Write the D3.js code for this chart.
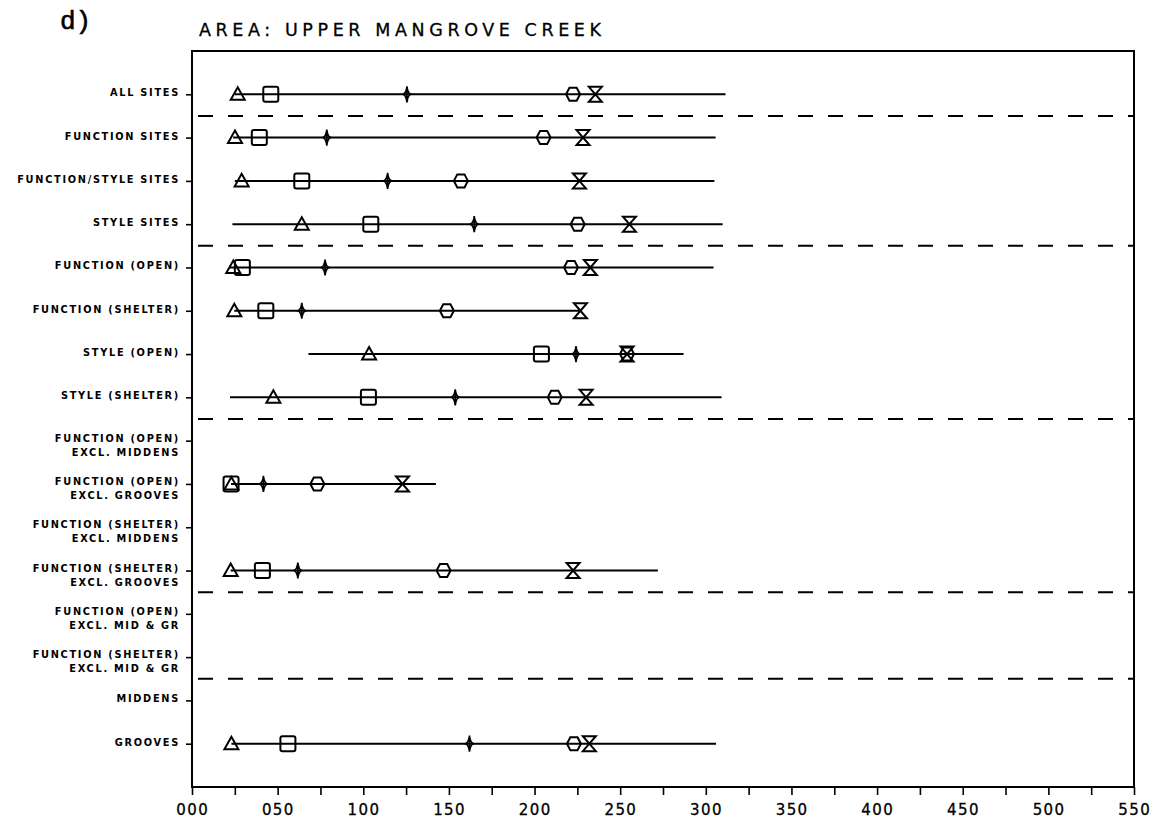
<!DOCTYPE html>
<html>
<head>
<meta charset="utf-8">
<script src="https://cdn.jsdelivr.net/npm/d3@7"></script>
<style>
  html, body { margin: 0; padding: 0; background: #fff; }
  svg { display: block; }
</style>
</head>
<body>
<svg id="chart" width="1157" height="820"></svg>
<script>
// ---------- DATA ----------
const panelLabel = "d)";
const title = "AREA: UPPER MANGROVE CREEK";

const categories = [
  ["ALL SITES"],
  ["FUNCTION SITES"],
  ["FUNCTION/STYLE SITES"],
  ["STYLE SITES"],
  ["FUNCTION (OPEN)"],
  ["FUNCTION (SHELTER)"],
  ["STYLE (OPEN)"],
  ["STYLE (SHELTER)"],
  ["FUNCTION (OPEN)", "EXCL. MIDDENS"],
  ["FUNCTION (OPEN)", "EXCL. GROOVES"],
  ["FUNCTION (SHELTER)", "EXCL. MIDDENS"],
  ["FUNCTION (SHELTER)", "EXCL. GROOVES"],
  ["FUNCTION (OPEN)", "EXCL. MID & GR"],
  ["FUNCTION (SHELTER)", "EXCL. MID & GR"],
  ["MIDDENS"],
  ["GROOVES"]
];

// range line (start / end) per category, null = no data
const lineStart = [25, 24, 25, 23.6, 22, 24.7, 68, 22.2, null, 22.8, null, 22.6, null, null, null, 23];
const lineEnd   = [311.5, 305.7, 305, 309.8, 304.5, 226.8, 287, 309.2, null, 142.4, null, 272, null, null, null, 306];

// marker series
const triangleVals  = [26.7, 25.1, 29, 64.1, 24.1, 24.7, 103.4, 47.5, null, 23, null, 22.6, null, null, null, 23];
const squareVals    = [46, 39.3, 64.1, 104.4, 29.4, 43.1, 204, 103, null, 22.8, null, 41.1, null, null, null, 56];
const diamondVals   = [125.5, 78.7, 114.2, 164.8, 77.7, 64.1, 224.2, 153.7, null, 41.7, null, 61.8, null, null, null, 162];
const hexagonVals   = [222.5, 205.3, 157, 225.2, 221.3, 148.8, 254, 211.8, null, 73.2, null, 146.9, null, null, null, 223];
const hourglassVals = [235.5, 228.3, 226.2, 255.4, 232.6, 226.8, 254, 230.1, null, 122.9, null, 222.5, null, null, null, 232];

// group separators (dashed lines drawn after these category indices)
const separatorsAfter = [0, 3, 7, 11, 13];

// x axis
const xTicksMajor = [0, 50, 100, 150, 200, 250, 300, 350, 400, 450, 500, 550];
const xTicksMinor = d3.range(0, 551, 25);

// ---------- LAYOUT ----------
const W = 1157, H = 820;
const margin = { left: 192, right: 23, top: 51, bottom: 33 };
const svg = d3.select("#chart");

const x = d3.scaleLinear().domain([0, 550]).range([margin.left, W - margin.right]);
const y = d3.scalePoint().domain(d3.range(categories.length))
  .range([margin.top, H - margin.bottom]).padding(1);
const step = y.step();

const ink = "#000";

// panel label
svg.append("text")
  .attr("x", 60).attr("y", 29)
  .attr("font-family", "Liberation Mono, DejaVu Sans Mono, monospace")
  .attr("font-size", 26)
  .attr("fill", ink)
  .attr("stroke", ink).attr("stroke-width", 0.6)
  .text(panelLabel);

// title
svg.append("text")
  .attr("x", 199).attr("y", 36)
  .attr("font-family", "DejaVu Sans, sans-serif")
  .attr("font-size", 17.5)
  .attr("textLength", 402)
  .attr("lengthAdjust", "spacing")
  .attr("fill", ink)
  .attr("stroke", ink).attr("stroke-width", 0.3)
  .text(title);

// plot box
svg.append("rect")
  .attr("x", x(0)).attr("y", margin.top)
  .attr("width", x(550) - x(0))
  .attr("height", H - margin.bottom - margin.top)
  .attr("fill", "none").attr("stroke", ink).attr("stroke-width", 2);

// x axis
const xAxisG = svg.append("g")
  .attr("transform", `translate(0,${H - margin.bottom})`);
xAxisG.call(d3.axisBottom(x).tickValues(xTicksMinor).tickSize(8).tickFormat(""))
  .call(g => g.select(".domain").remove())
  .call(g => g.selectAll("line").attr("stroke", ink).attr("stroke-width", 1.6));
xAxisG.selectAll("text.xl")
  .data(xTicksMajor)
  .join("text")
  .attr("class", "xl")
  .attr("x", d => x(d) + 0.7)
  .attr("y", 28)
  .attr("text-anchor", "middle")
  .attr("font-family", "DejaVu Sans, sans-serif")
  .attr("font-size", 15)
  .attr("letter-spacing", 1.4)
  .attr("fill", ink)
  .attr("stroke", ink).attr("stroke-width", 0.3)
  .text(d => d3.format("03d")(d));

// y axis ticks
const yAxisG = svg.append("g").attr("transform", `translate(${x(0)},0)`);
yAxisG.call(d3.axisLeft(y).tickSize(6).tickFormat(""))
  .call(g => g.select(".domain").remove())
  .call(g => g.selectAll("line").attr("stroke", ink).attr("stroke-width", 1.6));

// y labels
const labelG = svg.append("g");
categories.forEach((lines, i) => {
  const yy = y(i);
  const t = labelG.append("text")
    .attr("text-anchor", "end")
    .attr("font-family", "DejaVu Sans, sans-serif")
    .attr("font-weight", "bold")
    .attr("font-size", 9.8)
    .attr("letter-spacing", 1.7)
    .attr("fill", ink);
  if (lines.length === 1) {
    t.append("tspan").attr("x", 180).attr("y", yy + 2).text(lines[0]);
  } else {
    t.append("tspan").attr("x", 180).attr("y", yy + 1).text(lines[0]);
    t.append("tspan").attr("x", 180).attr("y", yy + 15).text(lines[1]);
  }
});

// dashed separators
svg.append("g").selectAll("line")
  .data(separatorsAfter)
  .join("line")
  .attr("x1", x(0)).attr("x2", x(550))
  .attr("y1", d => y(d) + step / 2)
  .attr("y2", d => y(d) + step / 2)
  .attr("stroke", ink).attr("stroke-width", 2)
  .attr("stroke-dasharray", "15,15")
  .attr("stroke-dashoffset", -6);

// range lines
const rows = d3.range(categories.length).filter(i => lineStart[i] != null);
svg.append("g").selectAll("line")
  .data(rows)
  .join("line")
  .attr("x1", i => x(lineStart[i]))
  .attr("x2", i => x(lineEnd[i]))
  .attr("y1", i => y(i)).attr("y2", i => y(i))
  .attr("stroke", ink).attr("stroke-width", 2);

// marker shapes (relative paths)
const shapes = {
  triangle: "M-7,5.5L7,5.5L0,-7Z",
  square: null,
  diamond: "M0,-8Q0.8,-1 4,0Q0.8,1 0,8Q-0.8,1 -4,0Q-0.8,-1 0,-8Z M0,-8L0,8",
  hexagon: "M-7,0L-3.6,-6.5L3.6,-6.5L7,0L3.6,6.5L-3.6,6.5Z",
  hourglass: "M-6.5,-7.5L6.5,-7.5L-6.5,7.5L6.5,7.5Z"
};

const series = [
  { key: "triangle", values: triangleVals },
  { key: "square", values: squareVals },
  { key: "diamond", values: diamondVals },
  { key: "hexagon", values: hexagonVals },
  { key: "hourglass", values: hourglassVals }
];

const markG = svg.append("g");
series.forEach(s => {
  const pts = d3.range(categories.length).filter(i => s.values[i] != null)
    .map(i => ({ i, v: s.values[i] }));
  const g = markG.append("g").attr("class", s.key);
  if (s.key === "square") {
    g.selectAll("rect").data(pts).join("rect")
      .attr("x", d => x(d.v) - 7.5).attr("y", d => y(d.i) - 7.5)
      .attr("width", 15).attr("height", 15).attr("rx", 2)
      .attr("fill", "none").attr("stroke", ink).attr("stroke-width", 2);
  } else {
    g.selectAll("path").data(pts).join("path")
      .attr("transform", d => `translate(${x(d.v)},${y(d.i)})`)
      .attr("d", shapes[s.key])
      .attr("fill", "none").attr("stroke", ink)
      .attr("stroke-width", s.key === "diamond" ? 1.6 : 2)
      .attr("stroke-linejoin", "miter");
  }
});
</script>
</body>
</html>
